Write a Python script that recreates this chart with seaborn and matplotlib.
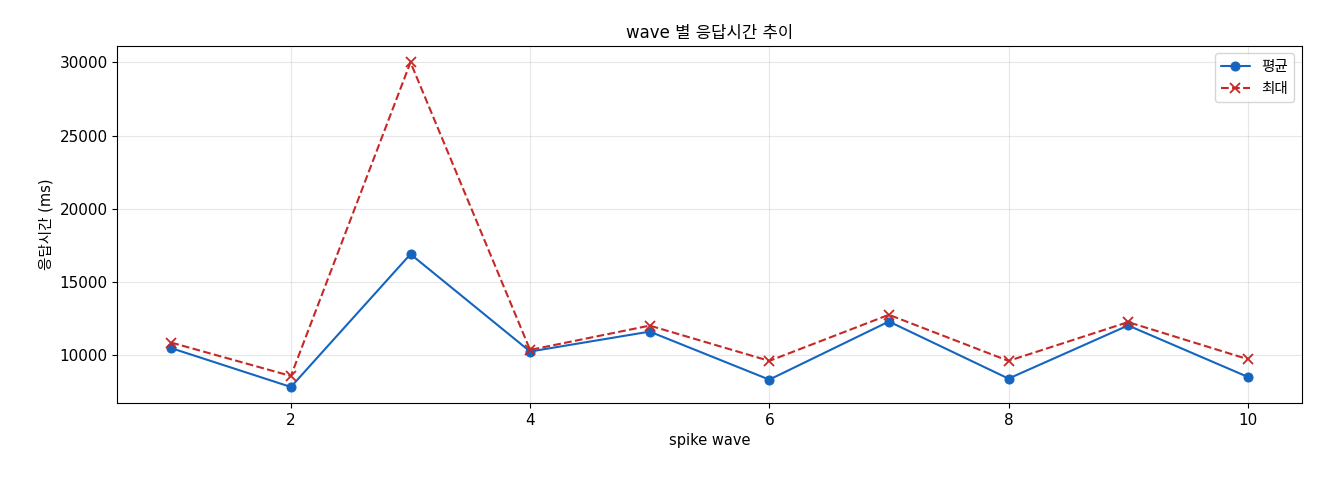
import numpy as np
import pandas as pd
import matplotlib
matplotlib.use('Agg')
import matplotlib.pyplot as plt
import seaborn as sns

sns.set_style('ticks', {'text.color': 'black', 'axes.labelcolor': 'black',
                        'xtick.color': 'black', 'ytick.color': 'black',
                        'axes.edgecolor': 'black'})
plt.rcParams['font.family'] = ['DejaVu Sans', 'Noto Sans CJK KR']
plt.rcParams['axes.unicode_minus'] = False

waves = [1, 2, 3, 4, 5, 6, 7, 8, 9, 10]
avg_ms = [10480, 7830, 16900, 10250, 11610, 8330, 12300, 8400, 12030, 8520]
max_ms = [10860, 8580, 30000, 10360, 12020, 9610, 12760, 9610, 12260, 9730]

df = pd.DataFrame({'wave': waves, '평균': avg_ms, '최대': max_ms})

fig, ax = plt.subplots(figsize=(13.2, 4.8), dpi=100)
sns.lineplot(data=df, x='wave', y='평균', marker='o', markersize=6.5, color='#1565C0',
             markeredgecolor='#1565C0', linewidth=1.5, legend=False, ax=ax)
sns.lineplot(data=df, x='wave', y='최대', marker='x', markersize=6.5, color='#C62828',
             markeredgecolor='#C62828', markeredgewidth=1.3, linewidth=1.5,
             legend=False, ax=ax)
ax.lines[0].set_label('평균')
ax.lines[1].set_label('최대')
ax.lines[1].set_linestyle('--')

ax.set_title('wave 별 응답시간 추이', fontsize=12)
ax.set_xlabel('spike wave', fontsize=10.5)
ax.set_ylabel('응답시간 (ms)', fontsize=10.5)
ax.tick_params(labelsize=11)
ax.grid(True, color='#b0b0b0', alpha=0.3)
ax.legend(loc='upper right', fontsize=10.5)
fig.subplots_adjust(left=0.089, right=0.986, top=0.904, bottom=0.16)
fig.savefig('out.png', dpi=100)
